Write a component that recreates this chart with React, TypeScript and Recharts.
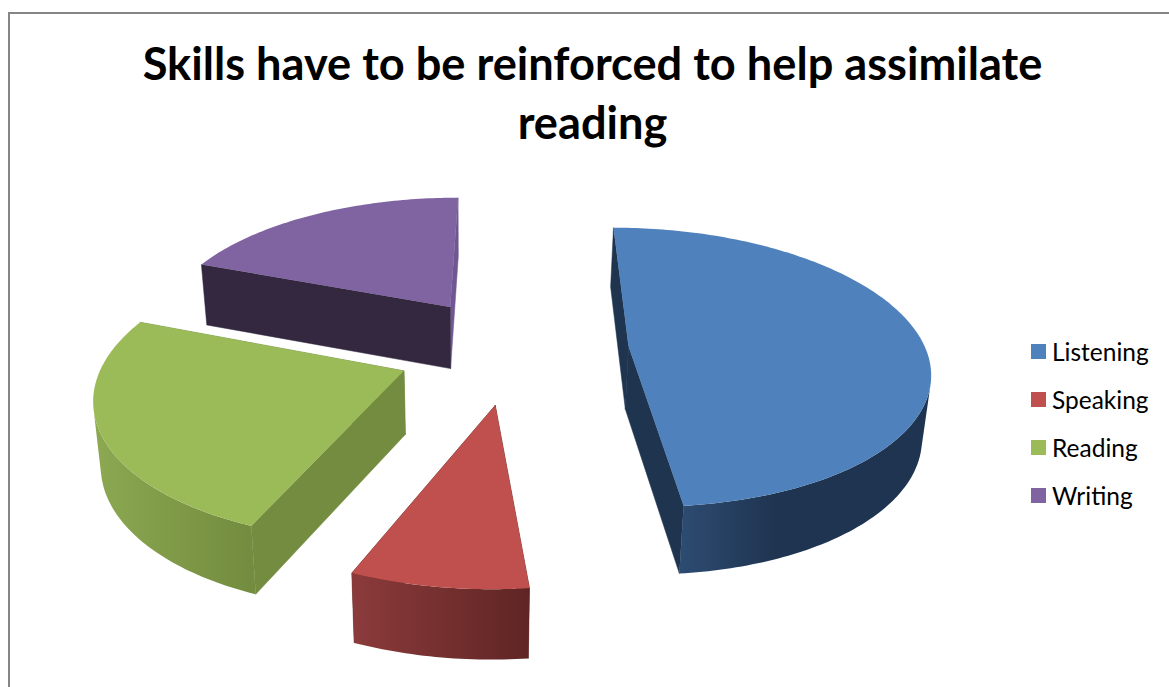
import React from "react";
import { PieChart, Pie, Cell, Legend } from "recharts";

const categories = ["Listening", "Speaking", "Reading", "Writing"];
const shares = [48.4, 7.8, 24.6, 19.2];
const topColors = ["#4F81BD", "#C0504D", "#9BBB59", "#8064A2"];
const startCutColors = ["#1F344F", "#5F2524", "#738C3F", "#33283F"];
const endCutColors = ["#1F344F", "#5F2524", "#738C3F", "#705792"];
const wallStops = [
  { x1: 680, x2: 775, from: "#2D4C72", to: "#1F3450" },
  { x1: 350, x2: 528, from: "#8C3B3B", to: "#5F2524" },
  { x1: 96, x2: 250, from: "#8CA851", to: "#738C3F" },
  { x1: 199, x2: 458, from: "#705792", to: "#705792" },
];
const titleLines = ["Skills have to be reinforced to help assimilate", "reading"];

const pieData = categories.map((name, i) => ({ name, value: shares[i], fill: topColors[i] }));

// Tilted-disc projection used by the extruded wedges.
const EXPLODE = 116;
const TILT = 0.462;
const PERSPECTIVE = 0.15;
const VANISH_X = 470;
const VANISH_PULL = 0.02;

type Pt = { x: number; y: number; s: number };

function wedgeProjector(cx: number, cy: number, R: number, midClock: number) {
  const ox = EXPLODE * Math.sin((midClock * Math.PI) / 180);
  const oy = -EXPLODE * Math.cos((midClock * Math.PI) / 180);
  return (radius: number, clock: number): Pt => {
    const t = (clock * Math.PI) / 180;
    const a = ox + radius * Math.sin(t);
    const b = oy - radius * Math.cos(t);
    const s = 1 / (1 - (PERSPECTIVE * b) / R);
    return { x: cx + a * s, y: cy + TILT * b * s, s };
  };
}

const lower = (p: Pt): Pt => ({
  x: p.x - (p.x - VANISH_X) * VANISH_PULL,
  y: p.y + 35 + 28 * p.s,
  s: p.s,
});

const toPath = (pts: Pt[]) =>
  pts.map((p, i) => `${i ? "L" : "M"}${p.x.toFixed(2)},${p.y.toFixed(2)}`).join("") + "Z";

// Keeps the run of rim points whose outer wall faces the viewer.
function visibleRim(arc: Pt[]): Pt[] {
  let from = -1;
  let to = -1;
  for (let k = 0; k < arc.length - 1; k++) {
    const dx = arc[k + 1].x - arc[k].x;
    const dy = arc[k + 1].y - arc[k].y;
    const down = lower(arc[k]);
    const cross = dx * (down.y - arc[k].y) - dy * (down.x - arc[k].x);
    if (cross < 0) {
      if (from < 0) from = k;
      to = k + 1;
    }
  }
  return from < 0 ? [] : arc.slice(from, to + 1);
}

function ExtrudedWedge(props: any) {
  const { cx, cy, outerRadius, startAngle, endAngle, index, fill } = props;
  const i = index ?? categories.indexOf(props.name);
  const c0 = 90 - startAngle;
  const c1 = 90 - endAngle;
  const project = wedgeProjector(cx, cy, outerRadius, (c0 + c1) / 2);
  const apex = project(0, 0);
  const arc: Pt[] = [];
  const steps = Math.max(8, Math.ceil(c1 - c0));
  for (let k = 0; k <= steps; k++) arc.push(project(outerRadius, c0 + ((c1 - c0) * k) / steps));
  const first = arc[0];
  const last = arc[arc.length - 1];
  const rim = visibleRim(arc);
  const gradId = `wall-${i}`;
  const g = wallStops[i];
  return (
    <g>
      <defs>
        <linearGradient id={gradId} gradientUnits="userSpaceOnUse" x1={g.x1} x2={g.x2} y1={0} y2={0}>
          <stop offset="0" stopColor={g.from} />
          <stop offset="1" stopColor={g.to} />
        </linearGradient>
      </defs>
      <path d={toPath([apex, last, lower(last), lower(apex)])} fill={endCutColors[i]} stroke={endCutColors[i]} strokeWidth={0.5} />
      <path d={toPath([apex, first, lower(first), lower(apex)])} fill={startCutColors[i]} stroke={startCutColors[i]} strokeWidth={0.5} />
      {rim.length > 1 && <path d={toPath([...rim, ...rim.map(lower).reverse()])} fill={`url(#${gradId})`} />}
      <path d={toPath([apex, ...arc])} fill={fill} />
    </g>
  );
}

function LegendList({ payload }: any) {
  return (
    <div style={{ fontFamily: "Lato, sans-serif", fontSize: 24.5, color: "#000" }}>
      {(payload || []).map((entry: any) => (
        <div key={entry.value} style={{ display: "flex", alignItems: "center", height: 48 }}>
          <span style={{ width: 15, height: 15, background: entry.color, marginRight: 6, flex: "none" }} />
          <span>{entry.value}</span>
        </div>
      ))}
    </div>
  );
}

export default function App() {
  return (
    <div style={{ position: "fixed", left: 0, top: 0, width: 1169, height: 687, overflow: "hidden", background: "#fff" }}>
      <div
        style={{
          position: "absolute",
          left: 8,
          top: 12,
          width: 1169,
          height: 700,
          borderLeft: "2px solid #868686",
          borderTop: "2px solid #868686",
        }}
      />
      <div
        style={{
          position: "absolute",
          left: 0,
          top: 33,
          width: 1185,
          textAlign: "center",
          fontFamily: "Lato, sans-serif",
          fontWeight: 700,
          fontSize: 45.2,
          lineHeight: "59px",
          color: "#000",
        }}
      >
        {titleLines.map((line) => (
          <div key={line}>{line}</div>
        ))}
      </div>
      <PieChart
        width={1169}
        height={687}
        margin={{ top: 0, right: 0, bottom: 0, left: 0 }}
        style={{ position: "absolute", left: 0, top: 0 }}
      >
        <Pie
          data={pieData}
          dataKey="value"
          nameKey="name"
          cx={513}
          cy={349}
          outerRadius={297}
          startAngle={90}
          endAngle={-270}
          stroke="none"
          label={false}
          labelLine={false}
          isAnimationActive={false}
          shape={ExtrudedWedge}
        >
          {pieData.map((d) => (
            <Cell key={d.name} fill={d.fill} />
          ))}
        </Pie>
        <Legend
          layout="vertical"
          align="right"
          verticalAlign="top"
          itemSorter={null}
          content={<LegendList />}
          wrapperStyle={{ left: 1031, right: "auto", top: 327, width: 135 }}
        />
      </PieChart>
    </div>
  );
}
